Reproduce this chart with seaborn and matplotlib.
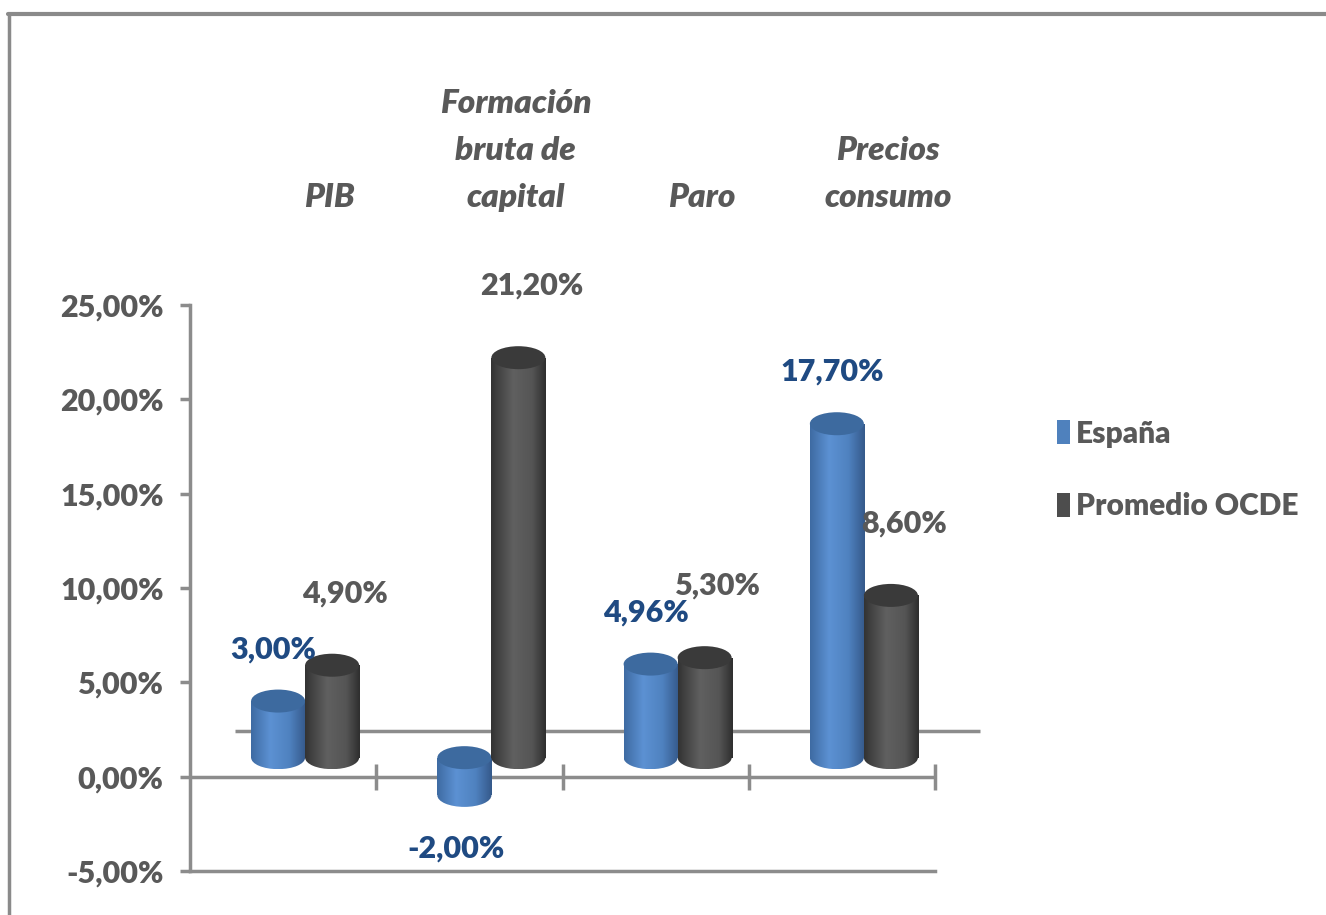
import numpy as np
import pandas as pd
import seaborn as sns
import matplotlib.pyplot as plt
from matplotlib.patches import Ellipse, Rectangle, Patch
from matplotlib.lines import Line2D
from matplotlib.transforms import ScaledTranslation, blended_transform_factory
from matplotlib.colors import LinearSegmentedColormap

# ---- data -------------------------------------------------------------
categorias = ["PIB", "Formación\nbruta de\ncapital", "Paro", "Precios\nconsumo"]
series = ["España", "Promedio OCDE"]
espana = [3.00, -2.00, 4.96, 17.70]
ocde = [4.90, 21.20, 5.30, 8.60]
yticks = [-5, 0, 5, 10, 15, 20, 25]
ytick_labels = ["-5,00%", "0,00%", "5,00%", "10,00%", "15,00%", "20,00%", "25,00%"]

df = pd.DataFrame({
    "categoria": categorias * 2,
    "serie": [series[0]] * len(espana) + [series[1]] * len(ocde),
    "valor": espana + ocde,
})

# ---- style ------------------------------------------------------------
sns.set_theme(style="white")
plt.rcParams["font.family"] = ["Lato", "DejaVu Sans"]

GRIS_EJE = "#8C8C8C"
GRIS_TXT = "#595959"
AZUL_TXT = "#1F4A82"
PESO = "heavy"

base_col = {"España": "#4F81BD", "Promedio OCDE": "#4D4D4D"}
tapa_col = {"España": "#3D6A9F", "Promedio OCDE": "#3A3A3A"}
grad = {
    "España": LinearSegmentedColormap.from_list(
        "esp", [(0, "#3E6BA2"), (0.35, "#5C91D3"), (0.7, "#4F82C0"), (1, "#35598A")]),
    "Promedio OCDE": LinearSegmentedColormap.from_list(
        "ocde", [(0, "#333333"), (0.4, "#606060"), (0.75, "#555555"), (1, "#2E2E2E")]),
}
txt_col = {"España": AZUL_TXT, "Promedio OCDE": GRIS_TXT}

W, H, DPI = 13.26, 9.15, 100
fig = plt.figure(figsize=(W, H), dpi=DPI)
ax = fig.add_axes([190 / 1326, 1 - 871 / 915, (935 - 190) / 1326, (871 - 305) / 915])

sns.barplot(data=df, x="categoria", y="valor", hue="serie", order=categorias,
            hue_order=series, palette=base_col, width=0.58, errorbar=None,
            legend=False, ax=ax)

ax.set_xlim(-0.5, 3.5)
ax.set_ylim(-5, 25)

# pseudo-3D depth: bars sit halfway into the floor, back edge at full depth
def px(dx, dy):
    return ScaledTranslation(dx / DPI, dy / DPI, fig.dpi_scale_trans)

t_bar = ax.transData + px(22, 19)
t_fondo = ax.transData + px(45, 46)

px_por_unidad = (871 - 305) / 30.0
ell_h = 23 / px_por_unidad
gradiente = np.linspace(0, 1, 256).reshape(1, -1)

# back floor edge
ax.plot([-0.5, 3.5], [0, 0], color=GRIS_EJE, lw=2.5, transform=t_fondo,
        zorder=1, solid_capstyle="butt", clip_on=False)

z = 3
for serie, cont in zip(series, ax.containers):
    for bar, v in zip(cont, df.loc[df.serie == serie, "valor"]):
        bar.set_visible(False)
        x0, w = bar.get_x(), bar.get_width()
        xc = x0 + w / 2
        y_a, y_b = bar.get_y(), bar.get_y() + bar.get_height()
        lo, hi = min(y_a, y_b), max(y_a, y_b)

        # cylinder body
        cuerpo = Rectangle((x0, lo), w, hi - lo, transform=t_bar, facecolor="none",
                           edgecolor="none")
        ax.add_patch(cuerpo)
        im = ax.imshow(gradiente, cmap=grad[serie], aspect="auto",
                       extent=[x0, x0 + w, lo, hi], zorder=z, interpolation="bilinear")
        im.set_transform(t_bar)
        im.set_clip_path(cuerpo)

        # rounded base
        fondo = Ellipse((xc, lo), w, ell_h, transform=t_bar, facecolor="none",
                        edgecolor="none")
        ax.add_patch(fondo)
        im2 = ax.imshow(gradiente, cmap=grad[serie], aspect="auto",
                        extent=[x0, x0 + w, lo - ell_h / 2, lo + ell_h / 2],
                        zorder=z, interpolation="bilinear")
        im2.set_transform(t_bar)
        im2.set_clip_path(fondo)

        # top cap
        tapa = Ellipse((xc, hi), w, ell_h, transform=t_bar,
                       facecolor=tapa_col[serie], edgecolor="none", zorder=z + 0.5)
        ax.add_patch(tapa)

        # value label
        etiqueta = f"{v:.2f}%".replace(".", ",")
        if v >= 0:
            dx, dy, ya = (-5, 52, hi) if serie == series[0] else (13, 72, hi)
        else:
            dx, dy, ya = (-8, -53, lo)
        ax.annotate(etiqueta, xy=(xc, ya), xycoords=t_bar,
                    xytext=(dx * 72 / DPI, dy * 72 / DPI), textcoords="offset points",
                    ha="center", va="center", fontsize=22, fontweight=PESO,
                    color=txt_col[serie], zorder=10)
        z += 1

# zero line with category separators
ax.axhline(0, color=GRIS_EJE, lw=2.5, zorder=2)
ax.plot([0.5, 1.5, 2.5, 3.5], [0, 0, 0, 0], ls="none", marker="|",
        markersize=19, markeredgewidth=2.5, color=GRIS_EJE, zorder=2, clip_on=False)

# axes styling
for lado in ["top", "right"]:
    ax.spines[lado].set_visible(False)
for lado in ["left", "bottom"]:
    ax.spines[lado].set_color(GRIS_EJE)
    ax.spines[lado].set_linewidth(2.5)
ax.set_yticks(yticks)
ax.set_yticklabels(ytick_labels)
ax.tick_params(axis="y", direction="out", length=7, width=2.5, color=GRIS_EJE,
               labelcolor=GRIS_TXT, labelsize=22, pad=12, left=True)
for lbl in ax.get_yticklabels():
    lbl.set_fontweight(PESO)
ax.set_xticks([])
ax.set_xlabel("")
ax.set_ylabel("")
ax.grid(False)

# category titles above the plot
t_cat = blended_transform_factory(ax.transData, ax.transAxes) + px(46, 98)
for i, cat in enumerate(categorias):
    ax.text(i, 1, cat, transform=t_cat, ha="center", va="baseline",
            fontsize=24, fontweight=PESO, fontstyle="italic", color=GRIS_TXT,
            linespacing=1.75, clip_on=False)

# legend
manejadores = [Patch(facecolor=base_col[s], edgecolor="none") for s in series]
fig.legend(manejadores, series, loc="center left",
           bbox_to_anchor=(1057 / 1326, 1 - 470 / 915), frameon=False,
           handlelength=0.42, handleheight=0.85, handletextpad=0.22,
           labelspacing=1.5, borderaxespad=0, borderpad=0,
           prop={"size": 21.5, "weight": PESO}, labelcolor=GRIS_TXT)

# outer frame (top and left edges)
fig.add_artist(Line2D([8 / 1326, 1], [1 - 14 / 915] * 2, color="#8A8A8A", lw=3,
                      transform=fig.transFigure))
fig.add_artist(Line2D([9 / 1326] * 2, [0, 1 - 14 / 915], color="#8A8A8A", lw=2.5,
                      transform=fig.transFigure))

fig.savefig("out.png", dpi=DPI, facecolor="white")
